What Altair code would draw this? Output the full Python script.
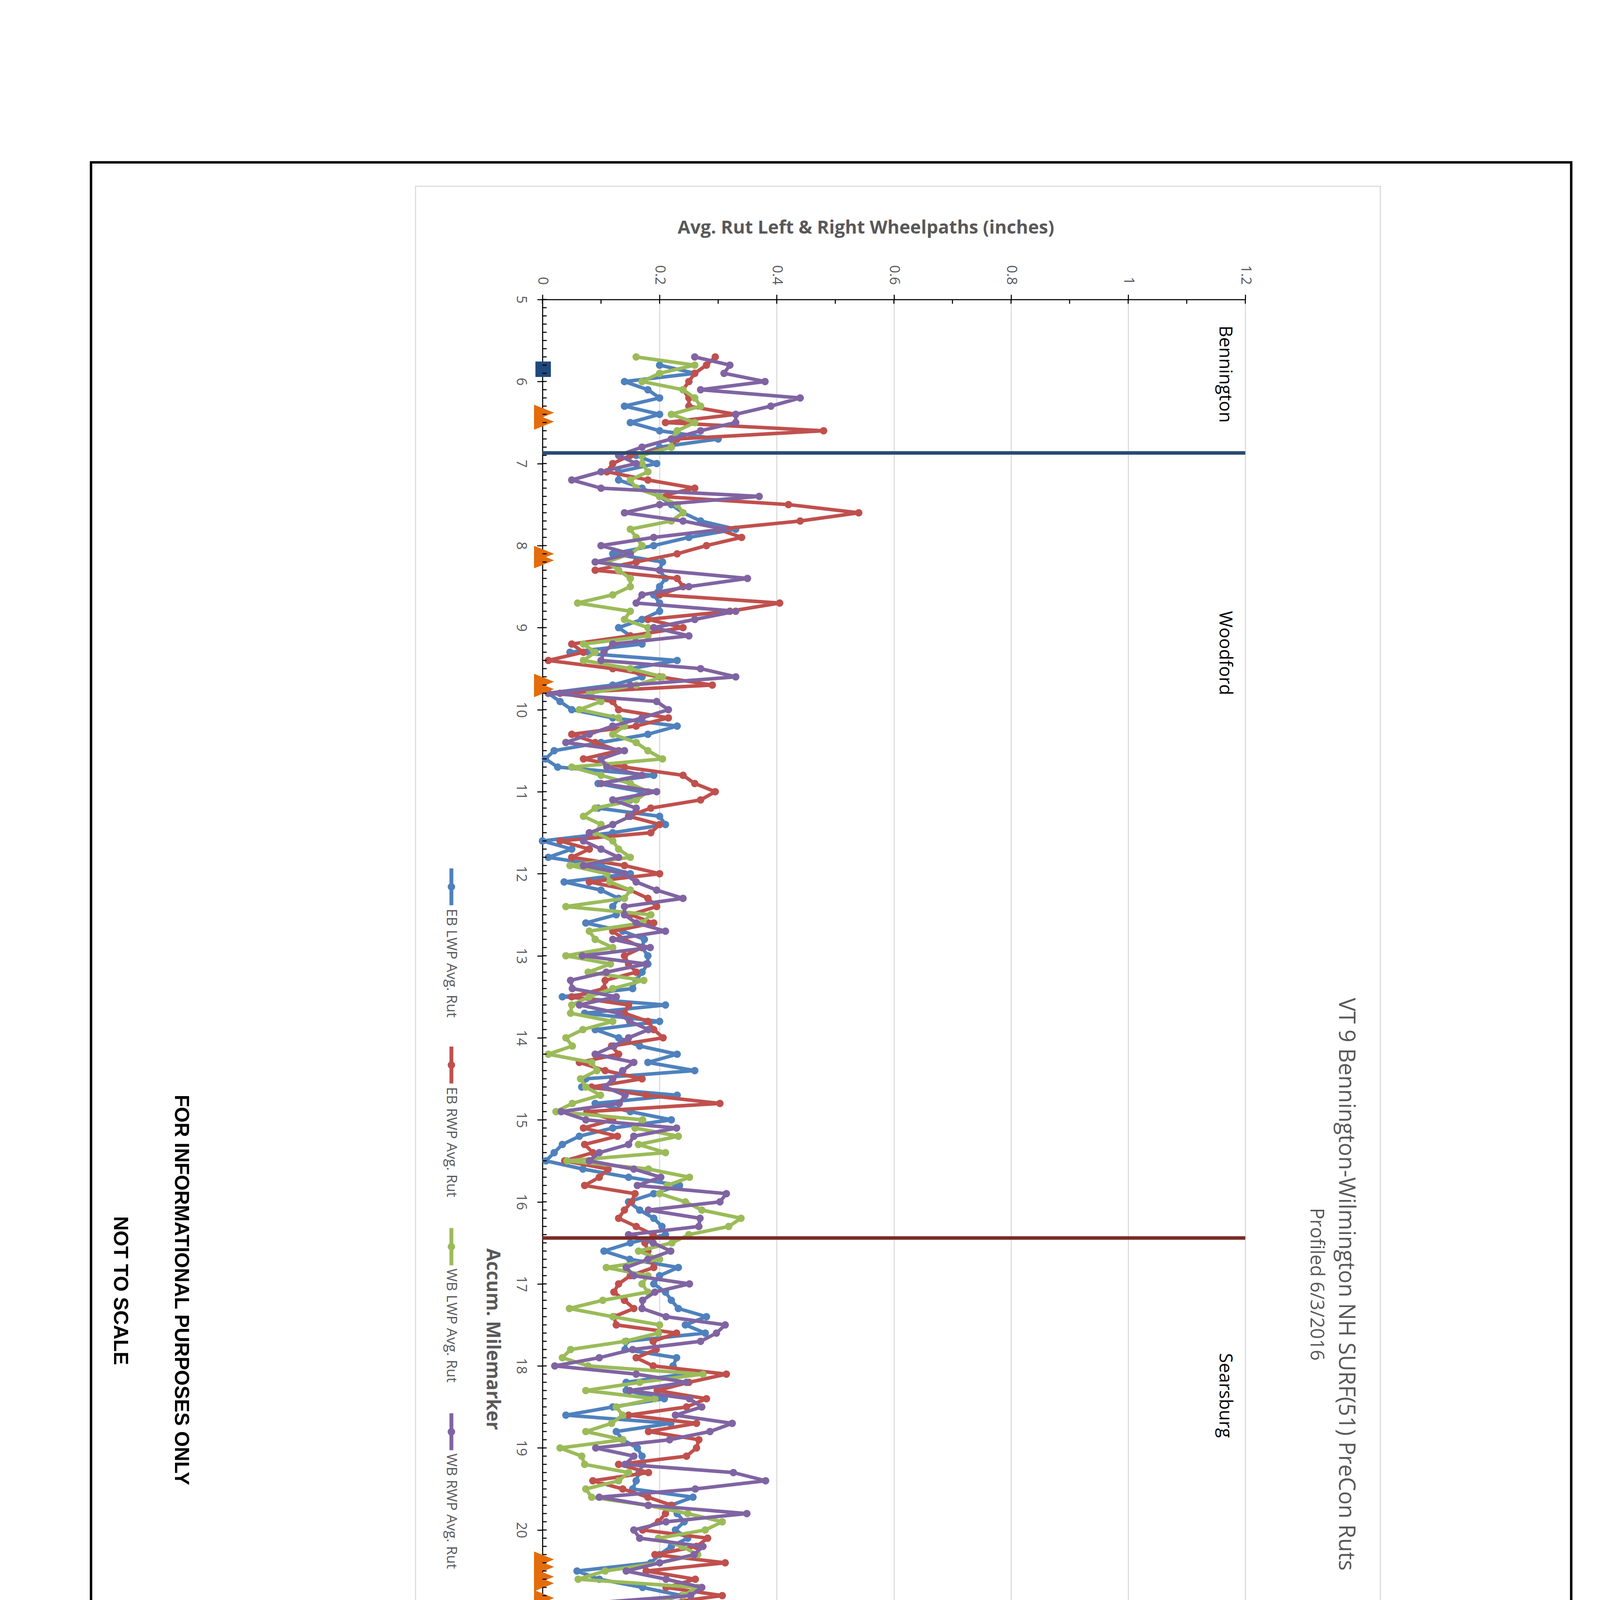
import sys
import altair as alt
import pandas as pd

# ---------------------------------------------------------------- data
# milemarker grid of the profile (every 0.1 mile, 5.7 ... 29.1)
MILEMARKER = [round(5.7 + 0.1 * i, 1) for i in range(235)]

EB_LWP = [
    None, 0.20, 0.26,
    0.14, 0.18, 0.20, 0.14, 0.20, 0.15, 0.20, 0.30, 0.20, 0.16,
    0.195, 0.13, 0.13, 0.17, 0.20, 0.22, 0.24, 0.27, 0.33, 0.25,
    0.19, 0.12, 0.205, 0.20, 0.21, 0.20, 0.19, 0.20, 0.20, 0.17,
    0.13, 0.15, 0.17, 0.047, 0.23, 0.15, 0.17, 0.12, 0.01, 0.03,
    0.05, 0.12, 0.23, 0.18, 0.10, 0.02, 0.005, 0.026, 0.19, 0.095,
    0.17, 0.15, 0.095, 0.20, 0.21, 0.12, 0.0, 0.05, 0.01, 0.10,
    0.15, 0.037, 0.10, 0.13, 0.12, 0.126, 0.074, 0.137, 0.174, 0.17,
    0.18, 0.18, 0.17, 0.16, 0.154, 0.034, 0.21, 0.072, 0.20, 0.09,
    0.13, 0.166, 0.23, 0.18, 0.26, 0.074, 0.067, 0.23, 0.09, 0.15,
    0.22, 0.12, 0.063, 0.034, 0.02, 0.006, 0.069, 0.147, 0.234, 0.19,
    0.147, 0.166, 0.19, 0.204, 0.21, 0.15, 0.105, 0.149, 0.232, 0.20,
    0.19, 0.21, 0.22, 0.232, 0.28, 0.244, 0.278, 0.143, 0.141, 0.229,
    0.223, 0.242, 0.143, 0.143, 0.208, 0.12, 0.04, 0.219, 0.126, 0.137,
    0.162, 0.17, 0.171, 0.165, 0.16, 0.154, 0.257, 0.219, 0.23, 0.242,
    0.227, 0.248, 0.22, 0.20, 0.185, 0.059, 0.097, 0.171, 0.238, 0.18,
    0.034, 0.029, 0.276, 0.22, 0.162, 0.12, 0.084, 0.16, 0.232, 0.135,
    0.232, 0.172, 0.241, 0.183, 0.061, 0.12, 0.176, 0.16, 0.153, 0.137,
    0.126, 0.089, 0.16, 0.128, 0.218, 0.17, 0.132, 0.165, 0.312, 0.167,
    0.215, 0.26, 0.359, 0.286, 0.233, 0.413, 0.336, 0.409, 0.585, 0.489,
    0.145, 0.474, 0.692, 0.581, 0.746, 0.719, 0.539, 0.562, 0.65, 0.70,
    0.58, 0.497, 0.106, 0.34, 0.244, 0.217, 0.20, 0.19, 0.176, 0.286,
    0.335, 0.314, 0.15, 0.043, 0.093, 0.204, 0.091, 0.231, 0.335, 0.293,
    0.208, 0.006, 0.084, 0.192, 0.286, 0.142, 0.061, 0.181, 0.165, 0.119,
    0.045, 0.204,
]

EB_RWP = [
    0.295, 0.28, 0.26,
    0.25, 0.24, 0.25, 0.25, 0.33, 0.21, 0.48, 0.23, 0.22, 0.15,
    0.12, 0.11, 0.18, 0.26, 0.20, 0.42, 0.54, 0.44, 0.30, 0.34,
    0.28, 0.23, 0.16, 0.09, 0.23, 0.24, 0.20, 0.405, 0.32, 0.18,
    0.24, 0.15, 0.05, 0.07, 0.01, 0.12, 0.20, 0.29, 0.03, 0.12,
    0.13, 0.215, 0.16, 0.05, 0.09, 0.13, 0.07, 0.14, 0.24, 0.26,
    0.295, 0.27, 0.185, 0.147, 0.20, 0.185, 0.03, 0.08, 0.05, 0.14,
    0.20, 0.08, 0.15, 0.18, 0.195, 0.15, 0.19, 0.12, 0.14, 0.17,
    0.14, 0.147, 0.16, 0.107, 0.105, 0.05, 0.147, 0.14, 0.18, 0.19,
    0.206, 0.118, 0.13, 0.063, 0.107, 0.17, 0.084, 0.177, 0.303, 0.076,
    0.12, 0.07, 0.128, 0.072, 0.086, 0.038, 0.112, 0.097, 0.072, 0.158,
    0.152, 0.14, 0.13, 0.16, 0.189, 0.175, 0.18, 0.185, 0.19, 0.15,
    0.13, 0.122, 0.14, 0.156, 0.122, 0.126, 0.229, 0.189, 0.194, 0.16,
    0.189, 0.314, 0.25, 0.196, 0.28, 0.246, 0.147, 0.263, 0.181, 0.267,
    0.263, 0.246, 0.13, 0.181, 0.086, 0.137, 0.18, 0.221, 0.21, 0.198,
    0.171, 0.282, 0.263, 0.192, 0.312, 0.177, 0.261, 0.211, 0.307, 0.20,
    0.15, 0.103, 0.272, 0.28, 0.297, 0.244, 0.32, 0.38, 0.404, 0.275,
    0.326, 0.29, 0.25, 0.28, 0.199, 0.169, 0.323, 0.346, 0.358, 0.286,
    0.213, 0.234, 0.335, 0.24, 0.277, 0.259, 0.29, 0.337, 0.569, 0.335,
    0.323, 0.367, 0.45, 0.573, 0.374, 0.554, 0.50, 0.424, 0.50, 0.562,
    0.233, 0.66, 1.129, 0.673, 1.025, 0.796, 0.926, 0.773, 0.742, 0.815,
    0.604, 0.50, 0.359, 0.466, 0.348, 0.145, 0.213, 0.25, 0.298, 0.35,
    0.406, 0.346, 0.20, 0.107, 0.194, 0.15, 0.107, 0.231, 0.346, 0.303,
    0.227, 0.082, 0.139, 0.309, 0.20, 0.144, 0.10, 0.192, 0.20, 0.073,
    0.066, 0.217,
]
EB_RWP_END_MM = [29.15]
EB_RWP_END = [0.69]

WB_LWP = [
    0.16, 0.26, 0.20,
    0.17, 0.24, 0.26, 0.27, 0.22, 0.26, 0.23, 0.22, 0.22, 0.17,
    0.17, 0.18, 0.15, 0.16, 0.20, 0.23, 0.24, 0.22, 0.15, 0.16,
    0.17, 0.15, 0.11, 0.13, 0.15, 0.15, 0.12, 0.06, 0.15, 0.14,
    0.18, 0.18, 0.07, 0.09, 0.07, 0.15, 0.205, 0.16, 0.08, 0.10,
    0.063, 0.13, 0.14, 0.12, 0.16, 0.18, 0.205, 0.05, 0.10, 0.15,
    0.18, 0.16, 0.09, 0.07, 0.10, 0.09, 0.12, 0.13, 0.15, 0.047,
    0.11, 0.115, 0.15, 0.14, 0.04, 0.185, 0.17, 0.08, 0.09, 0.12,
    0.04, 0.116, 0.078, 0.173, 0.12, 0.08, 0.05, 0.048, 0.12, 0.069,
    0.04, 0.051, 0.01, 0.084, 0.093, 0.065, 0.074, 0.099, 0.051, 0.023,
    0.171, 0.158, 0.232, 0.164, 0.21, 0.042, 0.181, 0.251, 0.213, 0.20,
    0.244, 0.272, 0.339, 0.318, 0.25, 0.221, 0.164, 0.20, 0.109, 0.18,
    0.17, 0.18, 0.103, 0.046, 0.12, 0.20, 0.198, 0.141, 0.048, 0.034,
    0.078, 0.274, 0.166, 0.074, 0.192, 0.126, 0.137, 0.118, 0.074, 0.137,
    0.03, 0.067, 0.072, 0.147, 0.13, 0.074, 0.084, 0.18, 0.248, 0.307,
    0.278, 0.198, 0.238, 0.265, 0.20, 0.107, 0.061, 0.265, 0.24, 0.16,
    0.21, 0.171, 0.314, 0.23, 0.17, 0.162, 0.199, 0.307, 0.349, 0.204,
    0.17, 0.149, 0.192, 0.13, 0.091, 0.296, 0.25, 0.213, 0.22, 0.24,
    0.27, 0.296, 0.188, 0.139, 0.312, 0.20, 0.121, 0.211, 0.218, 0.121,
    0.381, 0.475, 0.512, 0.225, 0.50, 0.512, 0.424, 0.294, 0.348, 0.535,
    0.746, 0.857, 0.765, 0.773, 0.704, 0.558, 0.734, 0.551, 0.773, 0.558,
    0.428, 0.286, 0.34, 0.386, 0.275, 0.217, 0.24, 0.286, 0.27, 0.319,
    0.263, 0.199, 0.323, 0.335, 0.243, 0.314, 0.16, 0.231, 0.25, 0.257,
    0.312, 0.247, 0.369, 0.282, 0.307, 0.342, 0.236, 0.319, 0.139, 0.247,
    0.314, None,
]

WB_RWP = [
    0.26, 0.32, 0.31,
    0.38, 0.27, 0.44, 0.39, 0.33, 0.33, 0.27, 0.22, 0.17, 0.13,
    0.16, 0.10, 0.05, 0.10, 0.37, 0.20, 0.14, 0.24, 0.31, 0.19,
    0.10, 0.15, 0.09, 0.20, 0.35, 0.25, 0.17, 0.16, 0.33, 0.26,
    0.19, 0.25, 0.12, 0.105, 0.10, 0.27, 0.33, 0.15, 0.01, 0.195,
    0.215, 0.17, 0.12, 0.08, 0.04, 0.14, 0.10, 0.11, 0.17, 0.10,
    0.195, 0.12, 0.16, 0.15, 0.12, 0.08, 0.07, 0.10, 0.13, 0.07,
    0.14, 0.16, 0.195, 0.24, 0.14, 0.14, 0.16, 0.21, 0.12, 0.184,
    0.068, 0.177, 0.109, 0.048, 0.051, 0.126, 0.063, 0.13, 0.149, 0.181,
    0.147, 0.122, 0.09, 0.156, 0.137, 0.12, 0.107, 0.141, 0.131, 0.032,
    0.074, 0.229, 0.156, 0.147, 0.097, 0.08, 0.156, 0.202, 0.162, 0.314,
    0.303, 0.181, 0.269, 0.267, 0.147, 0.189, 0.219, 0.18, 0.143, 0.156,
    0.251, 0.192, 0.171, 0.17, 0.211, 0.312, 0.297, 0.27, 0.154, 0.097,
    0.021, 0.16, 0.246, 0.149, 0.251, 0.272, 0.227, 0.324, 0.286, 0.217,
    0.091, 0.156, 0.141, 0.326, 0.381, 0.261, 0.097, 0.181, 0.349, 0.211,
    0.156, 0.166, 0.274, 0.259, 0.20, 0.143, 0.211, 0.272, 0.253, 0.065,
    0.189, 0.261, 0.211, 0.274, 0.103, 0.232, 0.208, 0.245, 0.291, 0.374,
    0.323, 0.169, 0.045, 0.263, 0.073, 0.215, 0.312, 0.149, 0.353, 0.066,
    0.39, 0.323, 0.257, 0.153, 0.19, 0.302, 0.245, 0.323, 0.399, 0.355,
    0.81, 0.553, 0.351, 0.455, 0.512, 0.539, 0.723, 0.73, 0.547, 0.83,
    0.746, 0.65, 0.734, 0.926, 0.65, 0.44, 0.738, 0.612, 0.616, 0.639,
    0.642, 0.263, 0.302, 0.294, 0.29, 0.294, 0.129, 0.257, 0.277, 0.309,
    0.247, 0.135, 0.188, 0.323, 0.10, 0.263, 0.183, 0.234, 0.16, 0.116,
    0.199, 0.204, 0.33, 0.326, 0.171, 0.183, 0.286, 0.323, 0.194, 0.197,
    0.34, None,
]

SERIES_NAMES = ["EB LWP Avg. Rut", "EB RWP Avg. Rut", "WB LWP Avg. Rut", "WB RWP Avg. Rut"]
SERIES_COLORS = ["#4F81BD", "#C0504D", "#9BBB59", "#8064A2"]

TOWNS = ["Bennington", "Woodford", "Searsburg", "Wilmington"]
TOWN_LABEL_MM = [5.91, 9.31, 18.36, 23.56]
TOWN_LIMIT_MM = [6.87, 16.44, 21.98]
TOWN_LIMIT_COLORS = ["#2A4B73", "#7B2B28", "#65792F"]

BRIDGE_MM = [6.38, 6.49, 8.10, 8.18, 9.66, 9.75, 20.36, 20.45, 20.57, 20.65,
             20.83, 20.91, 24.18, 25.37, 26.17]
INTERSECTION_MM = [5.85, 25.0]

RUT_TICKS = [0, 0.2, 0.4, 0.6, 0.8, 1.0, 1.2]
RUT_MINOR = [round(0.1 * i, 1) for i in range(13)]
MM_TICKS = list(range(5, 31))
MM_MINOR = [round(5 + 0.1 * i, 1) for i in range(251)]

# ---------------------------------------------------------------- layout
OX, OY = 1542, 849          # page position of the plot origin
PW, PH = 1999, 5833         # plot area
SHIFT_Y = 383               # correction for the vertical offset seen in the first render
GRAY = "#595959"
FONT = "Open Sans"


def px(x):
    return x - OX


def py(y):
    return y - OY


XS = alt.Scale(domain=[0, 1.2], nice=False, zero=False)
YS = alt.Scale(domain=[5, 30], nice=False, zero=False, reverse=True)

X_AX = alt.Axis(orient="top", values=RUT_TICKS, format="~g", title="",
                labelAngle=90, labelAlign="right", labelBaseline="middle",
                labelPadding=28, labelFont=FONT, labelFontSize=40, labelColor=GRAY,
                labelFlush=False, labelOverlap=False,
                domainColor="black", domainWidth=3, tickColor="black",
                tickWidth=3, tickSize=14, grid=True, gridColor="#D9D9D9", gridWidth=3)
Y_AX = alt.Axis(orient="left", values=MM_TICKS, format="d", title="",
                labelAngle=90, labelAlign="center", labelBaseline="top",
                labelPadding=26, labelFont=FONT, labelFontSize=40, labelColor=GRAY,
                labelFlush=False, labelOverlap=False,
                domainColor="black", domainWidth=3, tickColor="black",
                tickWidth=3, tickSize=15, grid=False)


def XE():
    return alt.X("rut:Q", scale=XS, axis=X_AX)


def YE():
    return alt.Y("mm:Q", scale=YS, axis=Y_AX)


ONE = pd.DataFrame({"k": [0]})


def txt(s, x, y, size, angle=90, align="left", baseline="alphabetic",
        font=FONT, weight="normal", color=GRAY):
    return alt.Chart(ONE).mark_text(
        text=s, angle=angle, align=align, baseline=baseline, font=font,
        fontSize=size, fontWeight=weight, color=color,
    ).encode(x=alt.value(px(x)), y=alt.value(py(y)))


def vrule(x, y1, y2, color="black", width=6):
    return alt.Chart(ONE).mark_rule(color=color, strokeWidth=width).encode(
        x=alt.value(px(x)), y=alt.value(py(y1)), y2=alt.value(py(y2)))


def hrule(y, x1, x2, color="black", width=6):
    return alt.Chart(ONE).mark_rule(color=color, strokeWidth=width).encode(
        y=alt.value(py(y)), x=alt.value(px(x1)), x2=alt.value(px(x2)))


layers = []

# chart panel border
layers.append(alt.Chart(ONE).mark_rect(fillOpacity=0, stroke="#D9D9D9", strokeWidth=3).encode(
    x=alt.value(px(1181)), x2=alt.value(px(3925)), y=alt.value(py(527)), y2=alt.value(py(6754))))

# series
series_values = [EB_LWP, EB_RWP, WB_LWP, WB_RWP]
for i, (name, vals, col) in enumerate(zip(SERIES_NAMES, series_values, SERIES_COLORS)):
    if len(vals) != len(MILEMARKER):
        print("length mismatch", name, len(vals), file=sys.stderr)
    rows = [(m, v) for m, v in zip(MILEMARKER, vals) if v is not None]
    if i == 1:
        rows += list(zip(EB_RWP_END_MM, EB_RWP_END))
    df = pd.DataFrame(rows, columns=["mm", "rut"])
    base = alt.Chart(df)
    layers.append(base.mark_line(color=col, strokeWidth=10, strokeJoin="round",
                                 strokeCap="round").encode(x=XE(), y=YE(), order="mm:Q"))
    layers.append(base.mark_point(filled=True, size=452, opacity=1, color=col).encode(
        x=XE(), y=YE()))

# town limits
for m, c in zip(TOWN_LIMIT_MM, TOWN_LIMIT_COLORS):
    layers.append(alt.Chart(pd.DataFrame({"mm": [m]})).mark_rule(color=c, strokeWidth=10).encode(
        y=YE(), x=alt.value(0), x2=alt.value(PW)))

# bridge limits and intersections
layers.append(alt.Chart(pd.DataFrame({"mm": BRIDGE_MM})).mark_point(
    shape="M-1,-0.8L1,0L-1,0.8Z", filled=True, size=3249, opacity=1, color="#E46C0A").encode(
    y=YE(), x=alt.value(4.5)))
layers.append(alt.Chart(pd.DataFrame({"mm": INTERSECTION_MM})).mark_point(
    shape="square", filled=True, size=1936, opacity=1, color="#1F497D").encode(
    y=YE(), x=alt.value(2)))

# inward minor ticks
layers.append(alt.Chart(pd.DataFrame({"rut": RUT_MINOR})).mark_rule(color="black", strokeWidth=3).encode(
    x=XE(), y=alt.value(0), y2=alt.value(12)))
layers.append(alt.Chart(pd.DataFrame({"mm": MM_MINOR})).mark_rule(color="black", strokeWidth=3).encode(
    y=YE(), x=alt.value(0), x2=alt.value(12)))

# town names
layers.append(alt.Chart(pd.DataFrame({"mm": TOWN_LABEL_MM, "town": TOWNS})).mark_text(
    angle=90, align="center", baseline="alphabetic", font=FONT, fontSize=51, color="black").encode(
    y=YE(), x=alt.value(px(3468)), text="town:N"))

# titles
layers.append(txt("Avg. Rut Left & Right Wheelpaths (inches)", 2462, 662, 52, angle=0,
                  align="center", weight="bold"))
layers.append(txt("Accum. Milemarker", 1384, 3806, 53, align="center", weight="bold"))
layers.append(txt("VT 9 Bennington-Wilmington NH SURF(51) PreCon Ruts", 3808, 3650, 64,
                  align="center"))
layers.append(txt("Profiled 6/3/2016", 3727, 3650, 54, align="center"))

# legend
LEG_LINE_Y = [(2467, 2572), (2974, 3079), (3490, 3596), (4017, 4122)]
LEG_TEXT_Y = [2582, 3089, 3605, 4131, 4657, 5098]
for (y1, y2), col in zip(LEG_LINE_Y, SERIES_COLORS):
    layers.append(vrule(1283, y1, y2, color=col, width=11))
    layers.append(alt.Chart(ONE).mark_point(filled=True, size=452, opacity=1, color=col).encode(
        x=alt.value(px(1283)), y=alt.value(py((y1 + y2) / 2))))
layers.append(alt.Chart(ONE).mark_point(shape="triangle-right", filled=True, size=1300,
                                        opacity=1, color="#E46C0A").encode(
    x=alt.value(px(1285)), y=alt.value(py(4600))))
layers.append(alt.Chart(ONE).mark_point(shape="square", filled=True, size=784,
                                        opacity=1, color="#1F497D").encode(
    x=alt.value(px(1285)), y=alt.value(py(5044))))
for name, y in zip(SERIES_NAMES + ["Bridge Limits", "Intersection"], LEG_TEXT_Y):
    layers.append(txt(name, 1270, y, 41))

# side notes
layers.append(txt("FOR INFORMATIONAL PURPOSES ONLY", 497, 3666, 57, align="center",
                  font="Liberation Sans", weight="bold", color="black"))
layers.append(txt("NOT TO SCALE", 323, 3668, 57, align="center",
                  font="Liberation Sans", weight="bold", color="black"))

# sheet frame and title block
layers.append(alt.Chart(ONE).mark_rect(fillOpacity=0, stroke="black", strokeWidth=7).encode(
    x=alt.value(px(258)), x2=alt.value(px(4468)), y=alt.value(py(459)), y2=alt.value(py(6862))))
layers.append(hrule(5402, 258, 643))
layers.append(vrule(643, 5402, 6862))
layers.append(vrule(485, 5402, 6862))

MONO = "Liberation Mono"
TB = [
    ("PROJECT NAME:", 590, 5443, 36),
    ("BENNINGTON-WILMINGTON", 580, 5882, 57),
    ("PROJECT NUMBER:", 520, 5443, 36),
    ("NH SURF (51)", 510, 5882, 57),
    ("FILE NAME:pl4v20lBennington-Wilmington.dgn", 433, 5443, 35),
    ("PLOT DATE: 28-MAR-2017", 433, 6310, 35),
    ("PROJECT LEADER:  M.FOWLER", 383, 5443, 35),
    ("DRAWN BY: N.PAPPAS", 383, 6295, 35),
    ("DESIGNED BY:  N.PAPPAS", 333, 5443, 35),
    ("CHECKED BY: M.FOWLER", 333, 6295, 35),
    ("RUTTING DATA INFORMATION SHEET", 285, 5443, 35),
    ("SHEET   62   OF   64", 285, 6295, 35),
]
for s, x, y, size in TB:
    layers.append(txt(s, x, y, size, font=MONO, color="black"))

chart = alt.layer(*layers).properties(
    width=PW, height=PH,
    autosize=alt.AutoSizeParams(type="none"),
    padding={"left": OX - 8, "top": OY - 8 - SHIFT_Y, "right": 1000, "bottom": 260 + SHIFT_Y},
    background="white",
).configure_view(stroke="transparent")

chart.save("out.html", embed_options={"renderer": "svg", "actions": False})
